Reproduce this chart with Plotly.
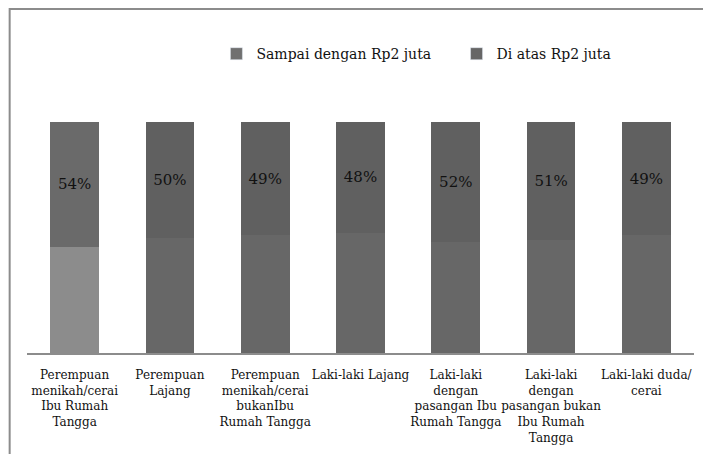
import plotly.graph_objects as go

categories = [
    "Perempuan<br>menikah/cerai<br>Ibu Rumah<br>Tangga",
    "Perempuan<br>Lajang",
    "Perempuan<br>menikah/cerai<br>bukanIbu<br>Rumah Tangga",
    "Laki-laki Lajang",
    "Laki-laki<br>dengan<br>pasangan Ibu<br>Rumah Tangga",
    "Laki-laki<br>dengan<br>pasangan bukan<br>Ibu Rumah<br>Tangga",
    "Laki-laki duda/<br>cerai",
]
sampai_2jt = [46, 50, 51, 52, 48, 49, 51]
di_atas_2jt = [54, 50, 49, 48, 52, 51, 49]

serif = "DejaVu Serif"

fig = go.Figure()

# real bars (legend drawn by dummy traces below)
fig.add_trace(go.Bar(
    x=categories, y=sampai_2jt, name="Sampai dengan Rp2 juta",
    marker=dict(color=["#8c8c8c"] + ["#676767"] * 6, line=dict(width=0)),
    showlegend=False, hoverinfo="skip",
))
fig.add_trace(go.Bar(
    x=categories, y=di_atas_2jt, name="Di atas Rp2 juta",
    marker=dict(color=["#6a6a6a"] + ["#606060"] * 6, line=dict(width=0)),
    text=[f"{v}%" for v in di_atas_2jt],
    textposition="inside", insidetextanchor="middle",
    textfont=dict(family=serif, size=15, color="#111111"),
    showlegend=False, hoverinfo="skip",
))

# legend entries, one legend each so they can be placed freely
fig.add_trace(go.Bar(x=[None], y=[None], name="Sampai dengan Rp2 juta",
                     marker_color="#707070", legend="legend"))
fig.add_trace(go.Bar(x=[None], y=[None], name="Di atas Rp2 juta",
                     marker_color="#666666", legend="legend2"))

leg = dict(
    orientation="h", xanchor="left", y=1.294, yanchor="middle",
    font=dict(family=serif, size=14, color="#111111"),
    bgcolor="rgba(0,0,0,0)", itemwidth=30,
)

fig.update_layout(
    width=703, height=446,
    barmode="stack", bargap=0.49,
    plot_bgcolor="white", paper_bgcolor="white",
    margin=dict(l=19, r=17, t=114, b=101, autoexpand=False),
    font=dict(family=serif, color="#111111"),
    legend=dict(leg, x=0.284),
    legend2=dict(leg, x=0.644),
    xaxis=dict(
        range=[-0.5, 6.5], showline=True, linecolor="#8c8c8c", linewidth=1.5,
        showgrid=False, ticks="", tickangle=0, ticklabelstandoff=10,
        automargin=False,
        tickfont=dict(family=serif, size=12, color="#111111"),
    ),
    yaxis=dict(range=[0, 100], visible=False, showgrid=False, automargin=False),
    shapes=[dict(
        type="path", xref="paper", yref="paper",
        path="M -0.026 -0.5 L -0.026 1.489 L 1.1 1.489",
        line=dict(color="#8c8c8c", width=2),
    )],
)

fig.write_html("out.html")
